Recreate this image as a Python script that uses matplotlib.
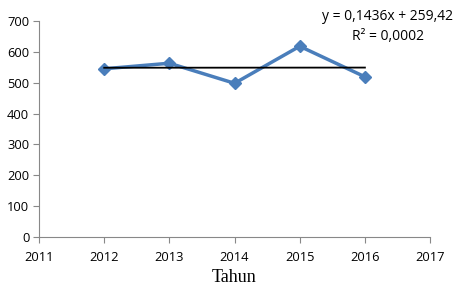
import matplotlib
matplotlib.use("Agg")
import matplotlib.pyplot as plt

tahun = [2012, 2013, 2014, 2015, 2016]
nilai = [545, 563, 498, 618, 519]
slope = 0.1436
intercept = 259.42
xticks = [2011, 2012, 2013, 2014, 2015, 2016, 2017]
yticks = [0, 100, 200, 300, 400, 500, 600, 700]

plt.rcParams["font.family"] = ["Open Sans", "DejaVu Sans"]

fig = plt.figure(figsize=(4.59, 2.91), dpi=100)
ax = fig.add_axes([0.085, 0.1856, 0.852, 0.7424])

ax.plot(tahun, nilai, color="#4A7EBB", linewidth=2.5, marker="D",
        markersize=6.5, zorder=3)
trend_x = [tahun[0], tahun[-1]]
trend_y = [slope * x + intercept for x in trend_x]
ax.plot(trend_x, trend_y, color="black", linewidth=1.3, zorder=4)

ax.set_xlim(2011, 2017)
ax.set_ylim(0, 700)
ax.set_xticks(xticks)
ax.set_yticks(yticks)
ax.tick_params(axis="both", labelsize=9.3, color="#888888", length=4,
               direction="out")
ax.tick_params(axis="x", pad=6)
ax.tick_params(axis="y", pad=3)
for s in ["top", "right"]:
    ax.spines[s].set_visible(False)
for s in ["left", "bottom"]:
    ax.spines[s].set_color("#888888")

ax.set_xlabel("Tahun", family="Liberation Serif", fontsize=13, labelpad=4)

ax.text(388 / 459, 1 - 17 / 291, "y = 0,1436x + 259,42",
        transform=fig.transFigure, ha="center", va="center", fontsize=10)
ax.text(388 / 459, 1 - 37 / 291, "R² = 0,0002",
        transform=fig.transFigure, ha="center", va="center", fontsize=10)

fig.savefig("out.png", dpi=100)
